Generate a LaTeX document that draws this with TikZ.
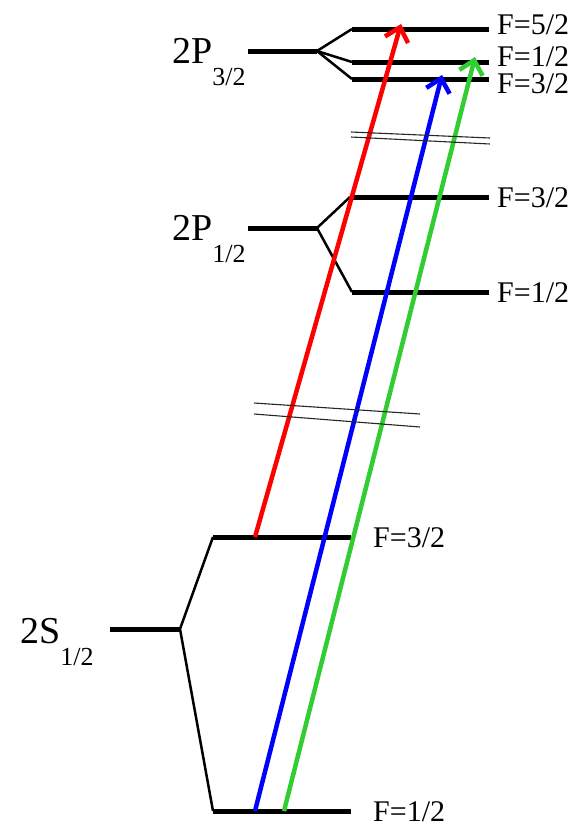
\documentclass[tikz,border=0pt]{standalone}
\usepackage{fontspec}
\setmainfont{Liberation Serif}
\newfontfamily\lvserif{Liberation Serif}
\usetikzlibrary{arrows.meta}
\definecolor{lgreen}{RGB}{50,205,50}
\newcommand\lvsub[1]{\raisebox{-22pt}{\fontsize{26}{26}\selectfont #1}}
\begin{document}
\begin{tikzpicture}[x=1pt,y=-1pt,
  level/.style={line width=5pt},
  fan/.style={line width=2.5pt},
  brk/.style={line width=1.1pt, black!85},
  trans/.style={line width=4.5pt, -{Straight Barb[length=13pt,width=24pt]}},
  flabel/.style={anchor=base west, inner sep=0pt, font=\lvserif\fontsize{30}{30}\selectfont},
  tlabel/.style={anchor=base west, inner sep=0pt, font=\lvserif\fontsize{38}{38}\selectfont}]
\useasboundingbox (0,0) rectangle (576,823);

% 2P3/2
\coordinate (P3a) at (248,51); \coordinate (P3b) at (317,51);
\coordinate (P35a) at (352,29); \coordinate (P35b) at (489,29);
\coordinate (P31a) at (352,62); \coordinate (P31b) at (489,62);
\coordinate (P33a) at (352,79); \coordinate (P33b) at (489,79);
% 2P1/2
\coordinate (P1a) at (248,228); \coordinate (P1b) at (317,228);
\coordinate (P13a) at (350,197); \coordinate (P13b) at (489,197);
\coordinate (P11a) at (352,292); \coordinate (P11b) at (489,292);
% 2S1/2
\coordinate (Sa) at (110,629); \coordinate (Sb) at (180,629);
\coordinate (S3a) at (213,537); \coordinate (S3b) at (351,537);
\coordinate (S1a) at (213,811); \coordinate (S1b) at (351,811);

\draw[level] (P3a) -- (P3b);
\draw[level] (P35a) -- (P35b);
\draw[level] (P31a) -- (P31b);
\draw[level] (P33a) -- (P33b);
\draw[fan] (P35a) -- (P3b) -- (P33a);
\draw[fan] (P3b) -- (P31a);

\draw[level] (P1a) -- (P1b);
\draw[level] (P13a) -- (P13b);
\draw[level] (P11a) -- (P11b);
\draw[fan] (P13a) -- (P1b) -- (P11a);

\draw[level] (Sa) -- (Sb);
\draw[level] (S3a) -- (S3b);
\draw[level] (S1a) -- (S1b);
\draw[fan] (S3a) -- (Sb) -- (S1a);

% labels
\node[tlabel] (lP3) at (172,63) {2P\lvsub{3/2}};
\node[tlabel] (lP1) at (172,240) {2P\lvsub{1/2}};
\node[tlabel] (lS) at (20,643) {2S\lvsub{1/2}};
\node[flabel] (f35) at (497,34) {F=5/2};
\node[flabel] (f31) at (497,66) {F=1/2};
\node[flabel] (f33) at (497,93) {F=3/2};
\node[flabel] (f13) at (497,207) {F=3/2};
\node[flabel] (f11) at (497,302) {F=1/2};
\node[flabel] (fs3) at (373,547) {F=3/2};
\node[flabel] (fs1) at (373,821) {F=1/2};

% transitions
\coordinate (rS) at (255,537); \coordinate (rE) at (401,24);
\coordinate (bS) at (255,811); \coordinate (bE) at (442,75);
\coordinate (gS) at (284,811); \coordinate (gE) at (475,57);
\draw[trans, red] (rS) -- (rE);
\draw[trans, blue] (bS) -- (bE);
\draw[trans, lgreen] (gS) -- (gE);

% break marks
\coordinate (u1a) at (351,132); \coordinate (u1b) at (490,138);
\coordinate (u2a) at (351,137); \coordinate (u2b) at (490,144);
\coordinate (d1a) at (254,403); \coordinate (d1b) at (420,414);
\coordinate (d2a) at (254,414); \coordinate (d2b) at (420,427);
\draw[brk] (u1a) -- (u1b);
\draw[brk] (u2a) -- (u2b);
\draw[brk] (d1a) -- (d1b);
\draw[brk] (d2a) -- (d2b);
\end{tikzpicture}
\end{document}
